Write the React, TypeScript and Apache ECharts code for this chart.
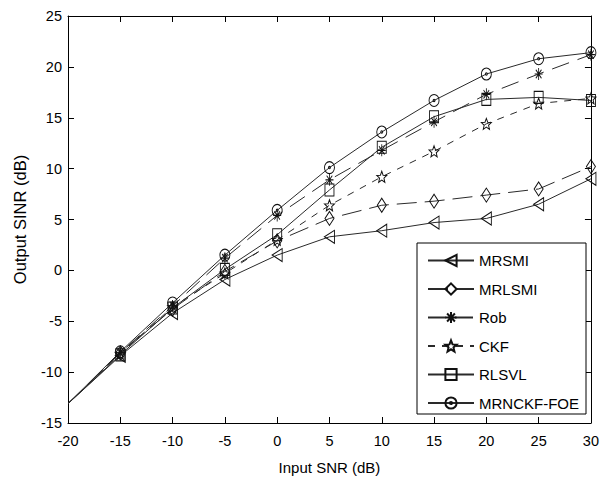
import React, { useEffect, useRef } from "react";
import * as echarts from "echarts";

const xValues = [-20, -15, -10, -5, 0, 5, 10, 15, 20, 25, 30];
const seriesNames = ["MRSMI", "MRLSMI", "Rob", "CKF", "RLSVL", "MRNCKF-FOE"];
const mrsmi = [-13.1, -8.4, -4.2, -0.9, 1.5, 3.3, 3.9, 4.7, 5.1, 6.5, 9.0];
const mrlsmi = [-13.1, -8.1, -3.8, -0.1, 2.9, 5.1, 6.4, 6.8, 7.4, 8.0, 10.2];
const rob = [-13.1, -8.1, -3.5, 1.2, 5.4, 8.9, 11.8, 14.6, 17.3, 19.3, 21.2];
const ckf = [-13.1, -8.2, -3.6, -0.3, 3.0, 6.4, 9.2, 11.7, 14.4, 16.4, 16.9];
const rlsvl = [-13.1, -8.3, -3.7, 0.1, 3.5, 7.9, 12.1, 15.1, 16.8, 17.0, 16.7];
const mrnckf = [-13.1, -8.0, -3.2, 1.5, 5.9, 10.1, 13.6, 16.7, 19.3, 20.8, 21.4];

const FONT = "'Liberation Sans', Arial, sans-serif";

const symTriLeft = "path://M0,5 L10,0 L10,10 Z";
const symAsterisk = "path://M5,0 L5,10 M0,5 L10,5 M1.5,1.5 L8.5,8.5 M1.5,8.5 L8.5,1.5";
const symStar =
  "path://M5,0 L6.29,3.22 L9.76,3.45 L7.09,5.68 L7.94,9.05 L5,7.2 L2.06,9.05 L2.91,5.68 L0.24,3.45 L3.71,3.22 Z";
const symCircleDot =
  "path://M10,5 A5,5 0 1,1 0,5 A5,5 0 1,1 10,5 Z M6,5 A1,1 0 1,1 4,5 A1,1 0 1,1 6,5 Z";

function build(name: string, vals: number[], symbol: string, size: number[], dash: any) {
  return {
    name,
    type: "line",
    data: xValues.map((x, i) =>
      i === 0 ? { value: [x, vals[i]], symbol: "none" } : { value: [x, vals[i]] }
    ),
    symbol,
    symbolSize: size,
    showAllSymbol: true,
    lineStyle: { color: "#2a2a2a", width: 1, type: dash },
    itemStyle: { color: "rgba(0,0,0,0)", borderColor: "#111", borderWidth: 1 },
    emphasis: { disabled: true },
    z: 2,
  };
}

export default function App() {
  const ref = useRef<HTMLDivElement>(null);
  useEffect(() => {
    if (!ref.current) return;
    const chart = echarts.init(ref.current, undefined, { renderer: "svg" });
    const axisCommon = {
      type: "value",
      interval: 5,
      axisLine: { show: true, onZero: false, lineStyle: { color: "#000", width: 1 } },
      axisTick: { show: true, inside: true, length: 6, lineStyle: { color: "#000" } },
      splitLine: { show: false },
    };
    const labelStyle = { color: "#000", fontFamily: FONT, fontSize: 14.5 };
    chart.setOption({
      animation: false,
      backgroundColor: "#fff",
      grid: { left: 68, right: 9, top: 16, bottom: 58, containLabel: false },
      xAxis: [
        {
          ...axisCommon,
          min: -20,
          max: 30,
          position: "bottom",
          axisLabel: { ...labelStyle, margin: 10 },
          name: "Input SNR (dB)",
          nameLocation: "middle",
          nameGap: 37,
          nameTextStyle: { ...labelStyle, fontSize: 15 },
        },
        {
          ...axisCommon,
          min: -20,
          max: 30,
          position: "top",
          axisLabel: { show: false },
        },
      ],
      yAxis: [
        {
          ...axisCommon,
          min: -15,
          max: 25,
          position: "left",
          axisLabel: { ...labelStyle, margin: 6 },
          name: "Output SINR (dB)",
          nameLocation: "middle",
          nameGap: 40,
          nameTextStyle: { ...labelStyle, fontSize: 16.5 },
        },
        {
          ...axisCommon,
          min: -15,
          max: 25,
          position: "right",
          axisLabel: { show: false },
        },
      ],
      legend: {
        orient: "vertical",
        left: 427,
        top: 253,
        padding: 0,
        itemWidth: 46,
        itemHeight: 14,
        itemGap: 13.5,
        data: seriesNames,
        textStyle: { ...labelStyle, fontSize: 15 },
      },
      graphic: [
        {
          type: "rect",
          z: 3,
          shape: { x: 417, y: 243, width: 169, height: 171 },
          style: { fill: "#fff", stroke: "#000", lineWidth: 1 },
        },
      ],
      series: [
        build("MRSMI", mrsmi, symTriLeft, [10, 13], "solid"),
        build("MRLSMI", mrlsmi, "diamond", [9, 14], [20, 8]),
        build("Rob", rob, symAsterisk, [8, 12], [18, 9]),
        build("CKF", ckf, symStar, [10, 11], [7, 7]),
        build("RLSVL", rlsvl, "rect", [9, 12], "solid"),
        build("MRNCKF-FOE", mrnckf, symCircleDot, [10, 12], "solid"),
      ],
    });
    return () => chart.dispose();
  }, []);
  return (
    <div
      ref={ref}
      style={{ position: "fixed", left: 0, top: 0, width: 602, height: 481, background: "#fff" }}
    />
  );
}
